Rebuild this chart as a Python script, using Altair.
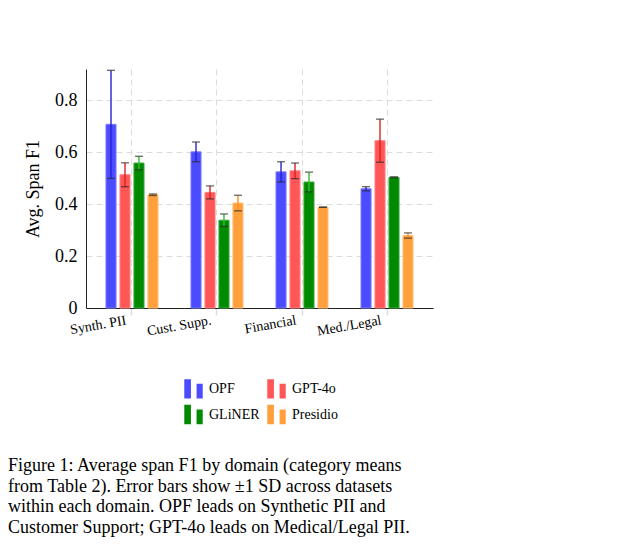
import altair as alt
import pandas as pd

# values (category means, +-1 SD)
domains = ["Synth. PII", "Cust. Supp.", "Financial", "Med./Legal"]
models = ["OPF", "GPT-4o", "GLiNER", "Presidio"]

opf_mean = [0.707, 0.601, 0.524, 0.459]
opf_sd = [0.208, 0.038, 0.039, 0.008]
gpt_mean = [0.513, 0.445, 0.528, 0.644]
gpt_sd = [0.046, 0.025, 0.030, 0.083]
gliner_mean = [0.558, 0.338, 0.485, 0.503]
gliner_sd = [0.026, 0.024, 0.038, 0.002]
presidio_mean = [0.436, 0.404, 0.388, 0.279]
presidio_sd = [0.003, 0.030, 0.000, 0.010]

caption = [
    "Figure 1: Average span F1 by domain (category means",
    "from Table 2). Error bars show \u00b11 SD across datasets",
    "within each domain. OPF leads on Synthetic PII and",
    "Customer Support; GPT-4o leads on Medical/Legal PII.",
]

means = [opf_mean, gpt_mean, gliner_mean, presidio_mean]
sds = [opf_sd, gpt_sd, gliner_sd, presidio_sd]
rows = []
for m, mu, sd in zip(models, means, sds):
    for d, v, s in zip(domains, mu, sd):
        rows.append({"domain": d, "model": m, "mean": v, "sd": s})
df = pd.DataFrame(rows)

fills = ["#4b4bff", "#ff5757", "#008a00", "#ffa03c"]
edges = ["#7b7bff", "#ff8080", "#3aa83a", "#ffbd78"]
errs = ["#2525cc", "#dd2020", "#30c030", "#ff9020"]
serif = "Liberation Serif"
title_y = "Avg. Span F1"

# the legend grid fills column by column: reorder so OPF/GPT-4o share the top row
legend_order = [models[0], models[2], models[1], models[3]]
legend_fills = [fills[0], fills[2], fills[1], fills[3]]

# two little bars, like a pgfplots ybar legend image
two_bars = "M-0.9,-0.95H-0.25V0.95H-0.9Z M0.3,-0.5H0.9V0.95H0.3Z"

base = alt.Chart(df).transform_calculate(
    lo="datum.mean - datum.sd", hi="datum.mean + datum.sd"
).encode(
    x=alt.X(
        "domain:N", sort=domains, title=None,
        scale=alt.Scale(paddingInner=0.388, paddingOuter=0.235),
        axis=alt.Axis(
            labelAngle=-10, labelAlign="right", labelBaseline="top",
            labelOffset=-7, labelPadding=-2, labelFontSize=14,
            bandPosition=0.5, grid=True, gridDash=[6, 4], gridColor="#dcdcdc",
            ticks=True, tickColor="#dcdcdc", tickSize=7, tickWidth=1.5,
            domainColor="#222",
        ),
    ),
    xOffset=alt.XOffset("model:N", sort=models, scale=alt.Scale(paddingInner=0.28)),
)

yscale = alt.Scale(domain=[0, 0.92], nice=False, zero=True)
yaxis = alt.Axis(
    values=[0, 0.2, 0.4, 0.6, 0.8], format=".1~f", ticks=False,
    grid=True, gridDash=[6, 4], gridColor="#dcdcdc",
    labelFontSize=18, labelPadding=9, domainColor="#222",
    titleFontSize=18, titleFontWeight="normal", titlePadding=12,
)

bars = base.mark_bar(strokeWidth=1).encode(
    y=alt.Y("mean:Q", scale=yscale, axis=yaxis, title=title_y),
    color=alt.Color(
        "model:N",
        scale=alt.Scale(domain=legend_order, range=legend_fills),
        legend=alt.Legend(
            title=None, orient="none", legendX=97, legendY=309,
            columns=2, symbolType=two_bars, symbolSize=420,
            symbolStrokeWidth=0, symbolOpacity=1,
            labelFont=serif, labelFontSize=14, labelColor="black",
            columnPadding=6, rowPadding=5, labelOffset=5, padding=0,
        ),
    ),
    stroke=alt.Stroke("model:N", scale=alt.Scale(domain=models, range=edges), legend=None),
)

rules = base.mark_rule(strokeWidth=1.4).encode(
    y=alt.Y("lo:Q", scale=yscale, title=title_y),
    y2="hi:Q",
    color=alt.Color("model:N", scale=alt.Scale(domain=models, range=errs), legend=None),
)

caps_lo = base.mark_tick(color="#2a2a2a", thickness=1.3, size=8).encode(
    y=alt.Y("lo:Q", scale=yscale, title=title_y)
)
caps_hi = base.mark_tick(color="#2a2a2a", thickness=1.3, size=8).encode(
    y=alt.Y("hi:Q", scale=yscale, title=title_y)
)

chart = alt.layer(bars, rules, caps_lo, caps_hi).resolve_scale(
    color="independent"
).properties(
    width=347,
    height=239,
    autosize=alt.AutoSizeParams(type="none"),
    padding={"left": 78, "top": 61, "right": 180, "bottom": 230},
    title=alt.TitleParams(
        text=caption, orient="bottom", anchor="start", frame="group",
        dx=-78, offset=32, font=serif, fontSize=18, fontWeight="normal",
        lineHeight=20.5, color="black",
    ),
).configure_view(
    stroke=None
).configure_axis(
    labelFont=serif, titleFont=serif, labelColor="black", titleColor="black"
).configure_title(
    font=serif, fontSize=18, fontWeight="normal", color="black"
)

chart.save("out.html", embed_options={"renderer": "svg", "actions": False})
